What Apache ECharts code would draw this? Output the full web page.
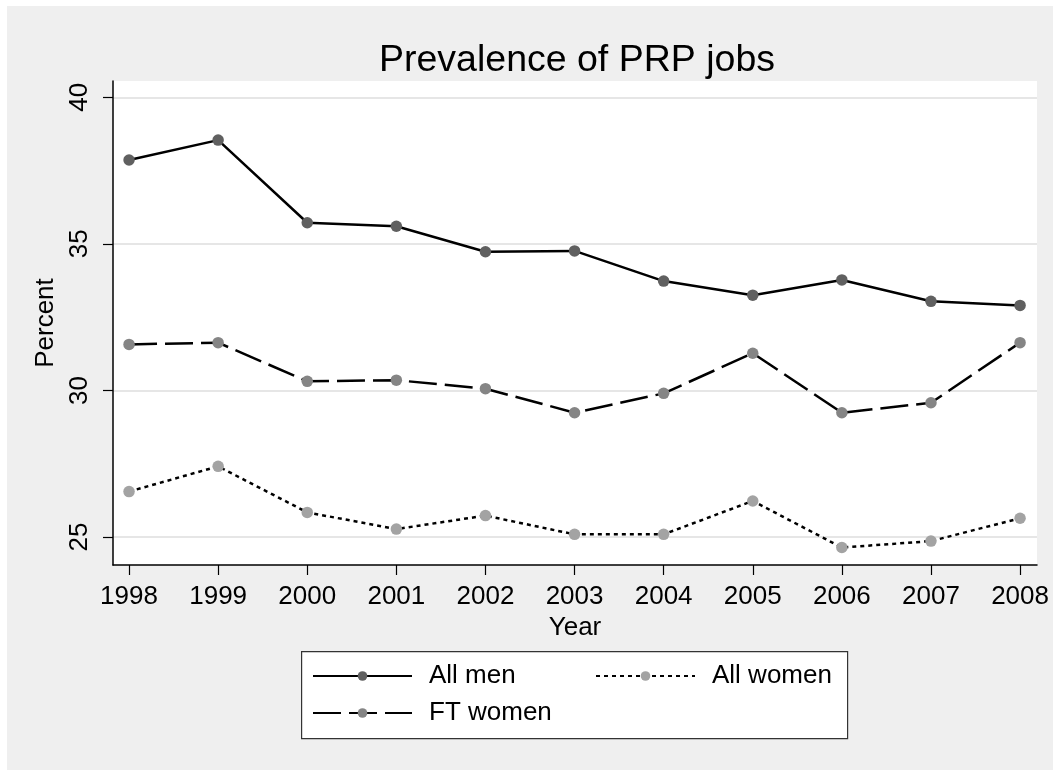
<!DOCTYPE html>
<html>
<head>
<meta charset="utf-8">
<script src="https://cdn.jsdelivr.net/npm/echarts@6/dist/echarts.min.js"></script>
<style>
  html, body { margin: 0; padding: 0; background: #ffffff; }
  #c { position: absolute; left: 7px; top: 6px; width: 1046px; height: 764px; }
</style>
</head>
<body>
<div id="c"></div>
<script>
const years = [1998, 1999, 2000, 2001, 2002, 2003, 2004, 2005, 2006, 2007, 2008];
const allMen = [37.86, 38.54, 35.72, 35.60, 34.73, 34.76, 33.73, 33.25, 33.77, 33.04, 32.90];
const ftWomen = [31.57, 31.63, 30.31, 30.35, 30.06, 29.24, 29.90, 31.27, 29.24, 29.58, 31.63];
const allWomen = [26.55, 27.41, 25.84, 25.27, 25.73, 25.09, 25.09, 26.23, 24.64, 24.86, 25.64];
const yTicks = [25, 30, 35, 40];
const xTicks = years;

const FONT = '"Liberation Sans", Arial, sans-serif';
const pairs = arr => years.map((y, i) => [y, arr[i]]);

const chart = echarts.init(document.getElementById('c'));
chart.setOption({
  backgroundColor: '#efefef',
  animation: false,
  title: {
    text: 'Prevalence of PRP jobs',
    left: 565, top: 31, textAlign: 'center',
    textStyle: { fontFamily: FONT, fontSize: 37.5, fontWeight: 'normal', color: '#000' }
  },
  grid: { left: 106, top: 75, right: 16, bottom: 205, show: true, backgroundColor: '#ffffff', borderWidth: 0 },
  xAxis: {
    type: 'value', min: 1997.82, max: 2008.19,
    name: 'Year', nameLocation: 'middle', nameGap: 45,
    nameTextStyle: { fontFamily: FONT, fontSize: 26, color: '#000' },
    axisLine: { show: true, lineStyle: { color: '#000', width: 1.5 } },
    axisTick: { show: true, length: 10, customValues: xTicks, lineStyle: { color: '#000', width: 1.2 } },
    axisLabel: { customValues: xTicks, margin: 19, fontFamily: FONT, fontSize: 26, color: '#000',
      formatter: v => String(Math.round(v)) },
    splitLine: { show: false }
  },
  yAxis: {
    type: 'value', min: 24.045, max: 40.556,
    name: 'Percent', nameLocation: 'middle', nameGap: 48,
    nameTextStyle: { fontFamily: FONT, fontSize: 26, color: '#000' },
    axisLine: { show: true, lineStyle: { color: '#000', width: 1.5 } },
    axisTick: { show: true, length: 10, customValues: yTicks, lineStyle: { color: '#000', width: 1.2 } },
    axisLabel: { customValues: yTicks, rotate: 90, margin: 20, fontFamily: FONT, fontSize: 26, color: '#000',
      formatter: v => String(Math.round(v)) },
    splitLine: { show: true, lineStyle: { color: '#e6e6e6', width: 2 } }
  },
  legend: [
    {
      data: ['All men', 'FT women'], orient: 'vertical', left: 305, top: 657,
      itemWidth: 99, itemHeight: 12, itemGap: 11, padding: 0,
      textStyle: { fontFamily: FONT, fontSize: 26, lineHeight: 26, color: '#000', padding: [0, 0, 0, 12] }
    },
    {
      data: ['All women'], orient: 'vertical', left: 588, top: 657,
      itemWidth: 99, itemHeight: 12, itemGap: 11, padding: 0,
      textStyle: { fontFamily: FONT, fontSize: 26, lineHeight: 26, color: '#000', padding: [0, 0, 0, 12] }
    }
  ],
  graphic: [{
    type: 'rect', left: 294, top: 645, z: -1,
    shape: { width: 546, height: 87 },
    style: { fill: '#ffffff', stroke: '#333333', lineWidth: 1.2 }
  }],
  series: [
    {
      name: 'All men', type: 'line', data: pairs(allMen),
      symbol: 'circle', symbolSize: 11.5,
      itemStyle: { color: '#606060' },
      lineStyle: { color: '#000', width: 2.5, type: 'solid' }
    },
    {
      name: 'FT women', type: 'line', data: pairs(ftWomen),
      symbol: 'circle', symbolSize: 11.5,
      itemStyle: { color: '#858585' },
      lineStyle: { color: '#000', width: 2.5, type: [28, 8] }
    },
    {
      name: 'All women', type: 'line', data: pairs(allWomen),
      symbol: 'circle', symbolSize: 11.5,
      itemStyle: { color: '#a3a3a3' },
      lineStyle: { color: '#000', width: 2.5, type: [4, 4] }
    }
  ]
});
</script>
</body>
</html>
